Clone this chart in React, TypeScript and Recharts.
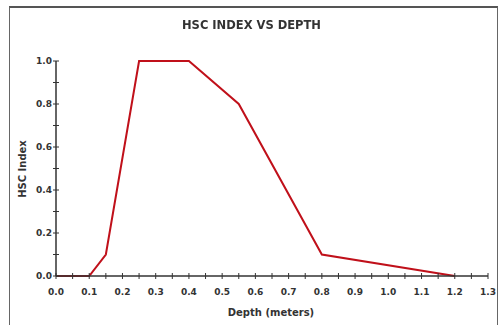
import { LineChart, Line, XAxis, YAxis } from "recharts";

const depth = [0, 0.1, 0.15, 0.25, 0.4, 0.55, 0.8, 1.2];
const hscIndex = [0, 0, 0.1, 1.0, 1.0, 0.8, 0.1, 0];

const xTicks = [
  0, 0.05, 0.1, 0.15, 0.2, 0.25, 0.3, 0.35, 0.4, 0.45, 0.5, 0.55, 0.6, 0.65,
  0.7, 0.75, 0.8, 0.85, 0.9, 0.95, 1.0, 1.05, 1.1, 1.15, 1.2, 1.25, 1.3,
];
const yTicks = [0, 0.1, 0.2, 0.3, 0.4, 0.5, 0.6, 0.7, 0.8, 0.9, 1.0];

const data = depth.map((d, i) => ({ depth: d, hsc: hscIndex[i] }));

const FONT = "'DejaVu Sans', sans-serif";
const INK = "#333";

// ticks cross the axis, labels only on every 0.1 (x) / 0.2 (y)
// eslint-disable-next-line @typescript-eslint/no-explicit-any
function XTick({ x, y, payload }: any) {
  const v = payload.value as number;
  const labeled = Math.round(v * 100) % 10 === 0;
  return (
    <g>
      <line x1={x} x2={x} y1={y - 3} y2={y + 3} stroke={INK} strokeWidth={1} />
      {labeled && (
        <text
          x={x}
          y={y + 19}
          textAnchor="middle"
          fontFamily={FONT}
          fontSize={9}
          fontWeight="bold"
          fill={INK}
        >
          {v.toFixed(1)}
        </text>
      )}
    </g>
  );
}

// eslint-disable-next-line @typescript-eslint/no-explicit-any
function YTick({ x, y, payload }: any) {
  const v = payload.value as number;
  const labeled = Math.round(v * 10) % 2 === 0;
  return (
    <g>
      <line x1={x - 3} x2={x + 3} y1={y} y2={y} stroke={INK} strokeWidth={1} />
      {labeled && (
        <text
          x={x - 4}
          y={y + 3}
          textAnchor="end"
          fontFamily={FONT}
          fontSize={9}
          fontWeight="bold"
          fill={INK}
        >
          {v.toFixed(1)}
        </text>
      )}
    </g>
  );
}

export default function App() {
  return (
    <div
      style={{
        position: "fixed",
        left: 0,
        top: 0,
        width: 499,
        height: 325,
        background: "#fff",
        fontFamily: FONT,
      }}
    >
      <div
        style={{
          position: "absolute",
          left: 9,
          top: 6,
          width: 487,
          height: 317,
          borderTop: "2px solid #555",
          borderLeft: "1px solid #666",
          borderRight: "1px solid #666",
          borderBottom: "1px solid #555",
        }}
      />
      <LineChart
        width={499}
        height={325}
        data={data}
        margin={{ top: 61, right: 11, bottom: 19, left: 16 }}
      >
        <XAxis
          dataKey="depth"
          type="number"
          domain={[0, 1.3]}
          ticks={xTicks}
          interval={0}
          height={30}
          tickSize={0}
          tickMargin={0}
          tickLine={false}
          axisLine={{ stroke: INK, strokeWidth: 1.5 }}
          tick={<XTick />}
        />
        <YAxis
          type="number"
          domain={[0, 1]}
          ticks={yTicks}
          interval={0}
          width={40}
          tickSize={0}
          tickMargin={0}
          tickLine={false}
          axisLine={{ stroke: INK, strokeWidth: 1.5 }}
          tick={<YTick />}
        />
        <Line
          dataKey="hsc"
          type="linear"
          stroke="#c0101a"
          strokeWidth={2}
          dot={false}
          isAnimationActive={false}
        />
      </LineChart>
      <div
        style={{
          position: "absolute",
          left: 0,
          width: 503,
          top: 25,
          marginTop: -8,
          lineHeight: "16px",
          textAlign: "center",
          fontSize: 11.5,
          fontWeight: "bold",
          color: INK,
        }}
      >
        HSC INDEX VS DEPTH
      </div>
      <div
        style={{
          position: "absolute",
          left: 171,
          width: 200,
          top: 313,
          marginTop: -7,
          lineHeight: "14px",
          textAlign: "center",
          fontSize: 10,
          fontWeight: "bold",
          color: INK,
        }}
      >
        Depth (meters)
      </div>
      <div
        style={{
          position: "absolute",
          left: 23,
          top: 169,
          width: 100,
          marginLeft: -50,
          marginTop: -7,
          lineHeight: "14px",
          textAlign: "center",
          fontSize: 10,
          fontWeight: "bold",
          color: INK,
          transform: "rotate(-90deg)",
        }}
      >
        HSC Index
      </div>
    </div>
  );
}
